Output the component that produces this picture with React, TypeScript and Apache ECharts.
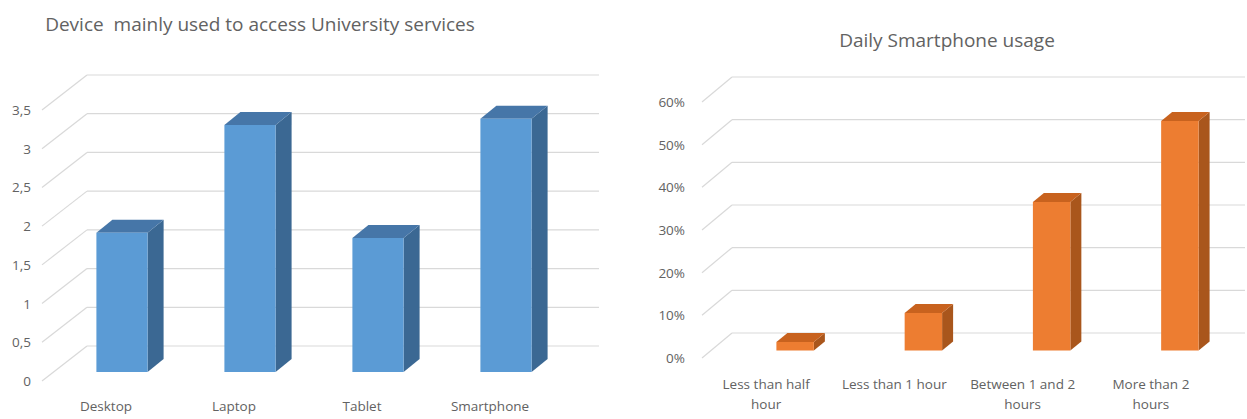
import React, { useEffect, useRef } from "react";
import * as echarts from "echarts";

const deviceCategories = ["Desktop", "Laptop", "Tablet", "Smartphone"];
const deviceValues = [1.8, 3.19, 1.73, 3.27];
const deviceTicks = [0, 0.5, 1, 1.5, 2, 2.5, 3, 3.5];

const usageCategories = ["Less than half\nhour", "Less than 1 hour", "Between 1 and 2\nhours", "More than 2\nhours"];
const usageValues = [0.02, 0.088, 0.348, 0.538];
const usageTicks = [0, 0.1, 0.2, 0.3, 0.4, 0.5, 0.6];

const FONT = "'Open Sans', 'Noto Sans', sans-serif";
const TEXT = "#626262";
const GRID = "#d9d9d9";

type BarCfg = {
  offX: number; offY: number; widthFrac: number; depthX: number; depthY: number;
  front: string; top: string; side: string;
};

const barRender = (cfg: BarCfg) => (params: any, api: any) => {
  const i = api.value(0);
  const v = api.value(1);
  const base = api.coord([i, 0]);
  const top = api.coord([i, v]);
  const bw = api.size([1, 0])[0] * cfg.widthFrac;
  const x0 = base[0] + cfg.offX - bw / 2;
  const x1 = x0 + bw;
  const yb = base[1] + cfg.offY;
  const yt = top[1] + cfg.offY;
  const dx = cfg.depthX;
  const dy = cfg.depthY;
  return {
    type: "group",
    children: [
      { type: "polygon", shape: { points: [[x1, yb], [x1 + dx, yb + dy], [x1 + dx, yt + dy], [x1, yt]] }, style: { fill: cfg.side } },
      { type: "polygon", shape: { points: [[x0, yt], [x1, yt], [x1 + dx, yt + dy], [x0 + dx, yt + dy]] }, style: { fill: cfg.top } },
      { type: "polygon", shape: { points: [[x0, yb], [x1, yb], [x1, yt], [x0, yt]] }, style: { fill: cfg.front } },
    ],
  };
};

const gridRender = (dx: number, dy: number) => (params: any, api: any) => {
  const cs = params.coordSys;
  const y = api.coord([0, api.value(1)])[1];
  const xl = cs.x;
  const xr = cs.x + cs.width;
  return {
    type: "group",
    children: [
      { type: "line", shape: { x1: xl, y1: y, x2: xl + dx, y2: y + dy }, style: { stroke: GRID, lineWidth: 1.2 } },
      { type: "line", shape: { x1: xl + dx, y1: y + dy, x2: xr + dx, y2: y + dy }, style: { stroke: GRID, lineWidth: 1.2 } },
    ],
  };
};

export default function App() {
  const ref = useRef<HTMLDivElement>(null);
  useEffect(() => {
    if (!ref.current) return;
    const chart = echarts.init(ref.current, undefined, { renderer: "svg" });
    chart.setOption({
      animation: false,
      backgroundColor: "#ffffff",
      title: [
        {
          text: "Device  mainly used to access University services",
          left: 260, top: 14, textAlign: "center", padding: 0,
          textStyle: { fontFamily: FONT, fontSize: 19, fontWeight: "normal", color: TEXT },
        },
        {
          text: "Daily Smartphone usage",
          left: 947, top: 30, textAlign: "center", padding: 0,
          textStyle: { fontFamily: FONT, fontSize: 19, fontWeight: "normal", color: TEXT },
        },
      ],
      grid: [
        { left: 42, top: 110, width: 512, height: 271 },
        { left: 702, top: 102, width: 513, height: 256 },
      ],
      xAxis: [
        {
          gridIndex: 0, type: "category", data: deviceCategories,
          axisLine: { show: false }, axisTick: { show: false }, splitLine: { show: false },
          axisLabel: { interval: 0, margin: 18, fontFamily: FONT, fontSize: 13.5, color: TEXT },
        },
        {
          gridIndex: 1, type: "category", data: usageCategories,
          axisLine: { show: false }, axisTick: { show: false }, splitLine: { show: false },
          axisLabel: { interval: 0, margin: 16, fontFamily: FONT, fontSize: 13.5, color: TEXT, lineHeight: 20 },
        },
      ],
      yAxis: [
        {
          gridIndex: 0, type: "value", min: 0, max: 3.5, interval: 0.5,
          axisLine: { show: false }, axisTick: { show: false }, splitLine: { show: false },
          axisLabel: { margin: 11, fontFamily: FONT, fontSize: 13.5, color: TEXT, formatter: (v: number) => String(v).replace(".", ",") },
        },
        {
          gridIndex: 1, type: "value", min: 0, max: 0.6, interval: 0.1,
          axisLine: { show: false }, axisTick: { show: false }, splitLine: { show: false },
          axisLabel: { margin: 17, fontFamily: FONT, fontSize: 13.5, color: TEXT, formatter: (v: number) => Math.round(v * 100) + "%" },
        },
      ],
      series: [
        {
          type: "custom", xAxisIndex: 0, yAxisIndex: 0, z: 1, silent: true,
          renderItem: gridRender(45, -35),
          data: deviceTicks.map((t) => [0, t]),
        },
        {
          type: "custom", xAxisIndex: 1, yAxisIndex: 1, z: 1, silent: true,
          renderItem: gridRender(30, -25),
          data: usageTicks.map((t) => [0, t]),
        },
        {
          type: "custom", xAxisIndex: 0, yAxisIndex: 0, z: 2,
          renderItem: barRender({ offX: 16, offY: -9, widthFrac: 0.4, depthX: 16, depthY: -13, front: "#5b9bd5", top: "#4676a8", side: "#3b6893" }),
          data: deviceValues.map((v, i) => [i, v]),
        },
        {
          type: "custom", xAxisIndex: 1, yAxisIndex: 1, z: 2,
          renderItem: barRender({ offX: 29, offY: -7.5, widthFrac: 0.292, depthX: 11, depthY: -9, front: "#ed7d31", top: "#c8621e", side: "#a9561c" }),
          data: usageValues.map((v, i) => [i, v]),
        },
      ],
    });
    return () => chart.dispose();
  }, []);
  return <div ref={ref} style={{ position: "absolute", left: 0, top: 0, width: 1247, height: 419 }} />;
}
